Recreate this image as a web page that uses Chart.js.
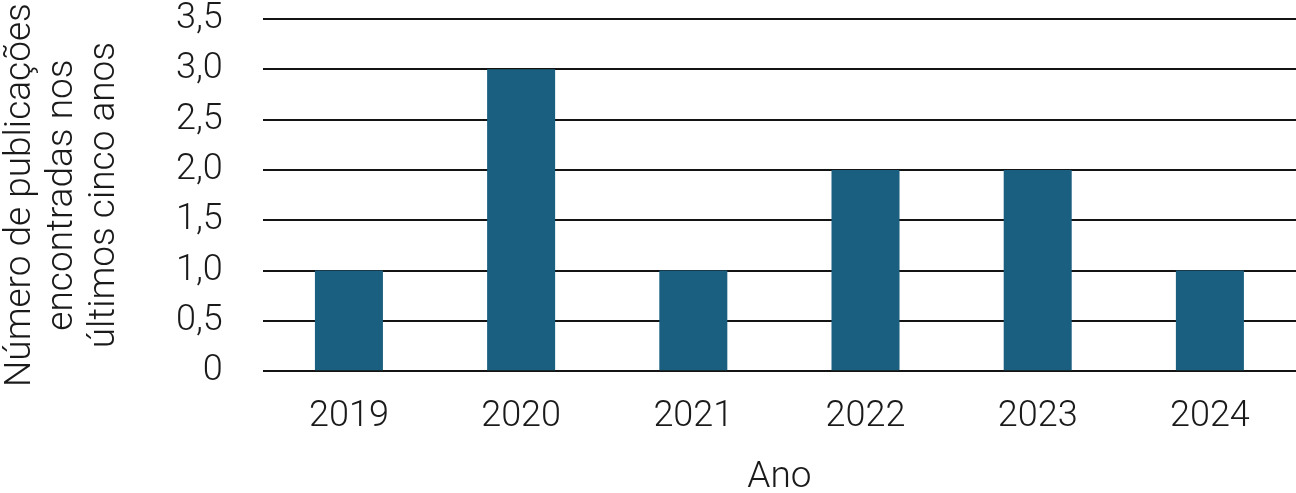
<!DOCTYPE html>
<html>
<head>
<meta charset="utf-8">
<script src="https://cdn.jsdelivr.net/npm/chart.js@4"></script>
<style>
  html, body { margin: 0; padding: 0; background: #ffffff; }
  #wrap { width: 1296px; height: 493px; }
</style>
</head>
<body>
<div id="wrap"><canvas id="c" width="1296" height="493"></canvas></div>
<script>
const categories = ["2019", "2020", "2021", "2022", "2023", "2024"];
const publicacoes = [1, 3, 1, 2, 2, 1];
const yTitleLines = ["Número de publicações", "encontradas nos", "últimos cinco anos"];
const xTitle = "Ano";

const FONT = "Roboto";

new Chart(document.getElementById("c"), {
  type: "bar",
  data: {
    labels: categories,
    datasets: [{
      data: publicacoes,
      backgroundColor: "#1a5f80",
      borderWidth: 0,
      barPercentage: 0.395,
      categoryPercentage: 1.0
    }]
  },
  options: {
    responsive: false,
    devicePixelRatio: 1,
    animation: false,
    layout: { padding: { top: 0, right: 0, bottom: 0, left: 0 } },
    plugins: { legend: { display: false }, tooltip: { enabled: false } },
    scales: {
      x: {
        grid: { display: false, drawTicks: false },
        border: { display: false },
        ticks: {
          color: "#1a1a1a",
          padding: 24,
          autoSkip: false,
          maxRotation: 0,
          font: { family: FONT, size: 36, weight: 300 }
        },
        title: {
          display: true,
          text: xTitle,
          color: "#1a1a1a",
          font: { family: FONT, size: 37, weight: 300, lineHeight: 0.8 },
          padding: { top: 1, bottom: 0 }
        }
      },
      y: {
        min: 0,
        max: 3.5,
        afterFit: function (scale) { scale.paddingTop = 19; },
        ticks: {
          stepSize: 0.5,
          autoSkip: false,
          color: "#1a1a1a",
          padding: 40,
          font: { family: FONT, size: 36, weight: 300 },
          callback: function (v) { return v === 0 ? "0" : v.toFixed(1).replace(".", ","); }
        },
        grid: { color: "#141414", lineWidth: 2, drawTicks: false },
        border: { display: false },
        title: {
          display: true,
          text: yTitleLines,
          color: "#1a1a1a",
          font: { family: FONT, size: 37, weight: 300, lineHeight: 1.135 },
          padding: { top: 0, bottom: 10 }
        }
      }
    }
  }
});
</script>
</body>
</html>
